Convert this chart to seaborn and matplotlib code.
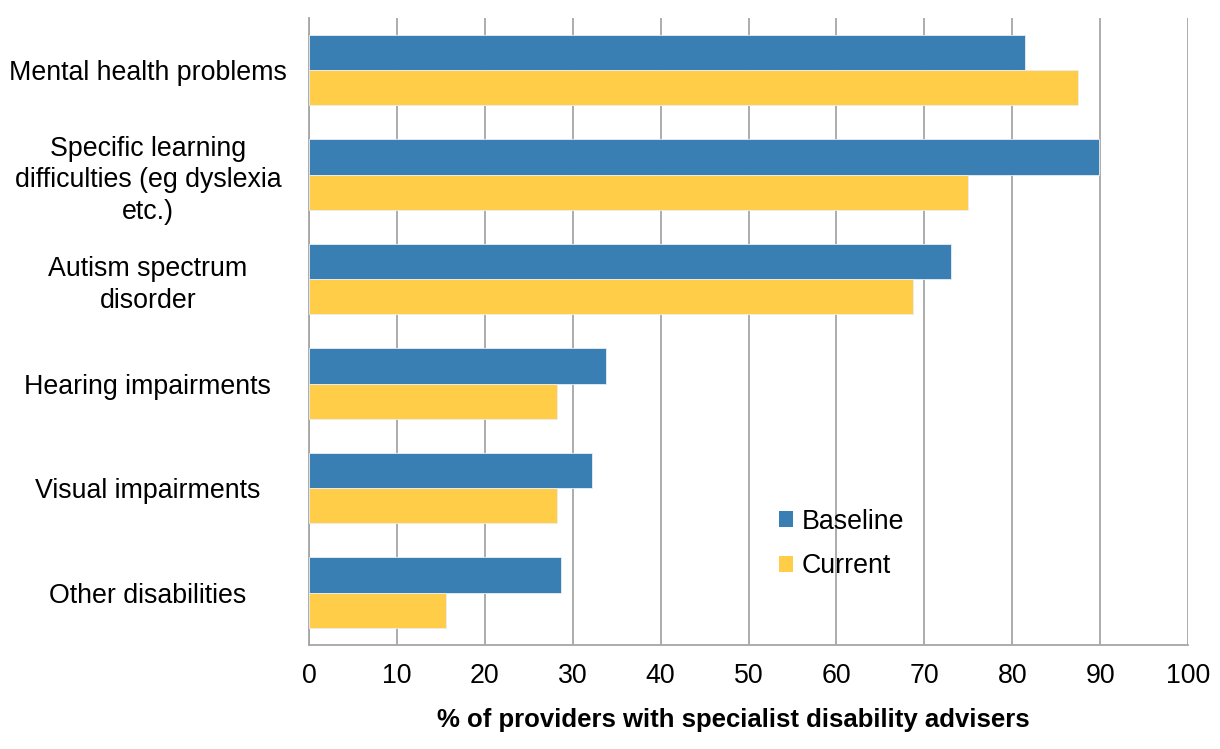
import numpy as np
import pandas as pd
import matplotlib
matplotlib.use("Agg")
import matplotlib.pyplot as plt
import seaborn as sns

# categories and values
categories = ['Mental health problems',
              'Specific learning\ndifficulties (eg dyslexia\netc.)',
              'Autism spectrum\ndisorder',
              'Hearing impairments',
              'Visual impairments',
              'Other disabilities']
baseline = [81.4, 89.9, 73.0, 33.8, 32.2, 28.7]
current = [87.5, 75.0, 68.7, 28.2, 28.2, 15.6]
series = ['Baseline', 'Current']
colors = ['#3A7FB3', '#FFCD47']
xticks = list(range(0, 101, 10))

df = pd.DataFrame({
    'category': categories * 2,
    'value': baseline + current,
    'series': [series[0]] * len(categories) + [series[1]] * len(categories),
})

sns.set_style('white')
plt.rcParams['font.family'] = ['Liberation Sans', 'DejaVu Sans']
plt.rcParams['text.color'] = 'black'
plt.rcParams['xtick.labelcolor'] = 'black'
plt.rcParams['ytick.labelcolor'] = 'black'
plt.rcParams['axes.labelcolor'] = 'black'

fig = plt.figure(figsize=(12.2, 7.49), dpi=100)
ax = fig.add_axes([0.2533, 0.1389, 0.7205, 0.8371])

sns.barplot(data=df, y='category', x='value', hue='series', orient='h',
            palette=colors, width=0.675, gap=0, saturation=1,
            edgecolor='#E8EEF4', linewidth=0.6, ax=ax, zorder=3)

ax.set_xlim(0, 100)
ax.set_ylim(len(categories) - 0.5, -0.5)
ax.set_xticks(xticks)
ax.set_xticklabels([str(t) for t in xticks], fontsize=19.3)

# grid
ax.xaxis.grid(True, color='#A6A6A6', linewidth=1.3, zorder=0)
ax.yaxis.grid(False)
ax.set_axisbelow(True)

# y ticks: labels at centres, marks at category boundaries
ax.set_yticks(range(len(categories)))
ax.set_yticklabels(categories, fontsize=19.3, ha='center', linespacing=1.27)
ax.tick_params(axis='y', which='major', length=0, pad=116)
ax.set_yticks(np.arange(-0.5, len(categories), 1), minor=True)
ax.tick_params(axis='y', which='minor', length=7, width=1.3, color='#A6A6A6', direction='out')
ax.tick_params(axis='x', which='major', length=7, width=1.3, color='#A6A6A6', direction='out', pad=6)

for side in ['top', 'right']:
    ax.spines[side].set_visible(False)
for side in ['left', 'bottom']:
    ax.spines[side].set_color('#A6A6A6')
    ax.spines[side].set_linewidth(1.3)

ax.set_ylabel('')
ax.set_xlabel('% of providers with specialist disability advisers',
              fontsize=18.5, fontweight='bold')
ax.xaxis.set_label_coords(0.483, -0.1005)

leg = ax.legend(loc='center left', bbox_to_anchor=(0.5075, 0.161), frameon=False,
                fontsize=19.3, handlelength=0.5, handleheight=0.5,
                labelspacing=0.7, handletextpad=0.35)
for h in leg.legend_handles:
    h.set_edgecolor('none')

fig.savefig('out.png', dpi=100)
